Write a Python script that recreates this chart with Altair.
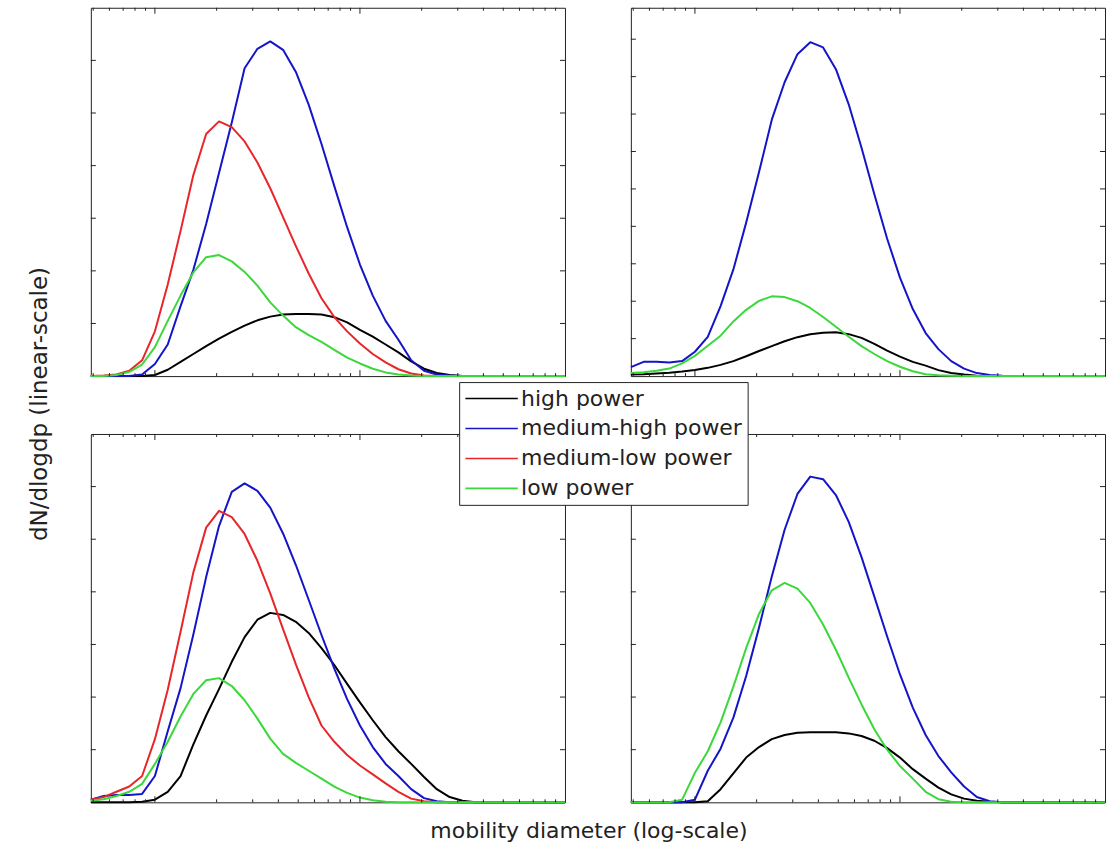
import altair as alt
import pandas as pd

# particle mobility diameter channels (16 per decade)
diameter = [4.870, 5.623, 6.494, 7.499, 8.660, 10.00, 11.55, 13.34, 15.40, 17.78,
            20.54, 23.71, 27.38, 31.62, 36.52, 42.17, 48.70, 56.23, 64.94, 74.99,
            86.60, 100.0, 115.5, 133.4, 154.0, 177.8, 205.4, 237.1, 273.8, 316.2,
            365.2, 421.7, 487.0, 562.3, 649.4, 749.9, 866.0, 1000.0]

series_names = ["high power", "medium-high power", "medium-low power", "low power"]
series_colors = ["#000000", "#1414c8", "#e8262a", "#3ad83a"]

# top-left panel
tl_high = [0, 0, 0, 0, 0, 0.02, 0.12, 0.27, 0.42, 0.57, 0.71, 0.84, 0.96, 1.06, 1.13, 1.17, 1.18, 1.18, 1.17, 1.12,
           1.02, 0.88, 0.75, 0.6, 0.45, 0.28, 0.14, 0.06, 0.02, 0, 0, 0, 0, 0, 0, 0, 0, 0]
tl_mhigh = [0, 0, 0, 0, 0.03, 0.23, 0.6, 1.33, 2.02, 2.89, 3.86, 4.82, 5.85, 6.22, 6.36, 6.2, 5.78, 5.16, 4.41, 3.61,
            2.83, 2.12, 1.53, 1.05, 0.69, 0.3, 0.1, 0.03, 0.01, 0, 0, 0, 0, 0, 0, 0, 0, 0]
tl_mlow = [0, 0.01, 0.03, 0.1, 0.3, 0.85, 1.74, 2.76, 3.82, 4.6, 4.84, 4.73, 4.46, 4.06, 3.57, 3.02, 2.47, 1.95, 1.48, 1.12,
           0.85, 0.62, 0.42, 0.26, 0.13, 0.05, 0.01, 0, 0, 0, 0, 0, 0, 0, 0, 0, 0, 0]
tl_low = [0, 0, 0.02, 0.08, 0.22, 0.55, 1.05, 1.53, 1.97, 2.26, 2.3, 2.18, 1.98, 1.72, 1.4, 1.15, 0.93, 0.78, 0.65, 0.5,
          0.35, 0.24, 0.14, 0.07, 0.03, 0.01, 0, 0, 0, 0, 0, 0, 0, 0, 0, 0, 0, 0]

# top-right panel
tr_high = [0.04, 0.05, 0.07, 0.09, 0.12, 0.16, 0.22, 0.3, 0.4, 0.53, 0.67, 0.8, 0.93, 1.04, 1.12, 1.16, 1.17, 1.12, 1.02, 0.86,
           0.68, 0.52, 0.38, 0.28, 0.16, 0.08, 0.04, 0.01, 0, 0, 0, 0, 0, 0, 0, 0, 0, 0]
tr_mhigh = [0.24, 0.38, 0.38, 0.36, 0.4, 0.65, 1.05, 1.87, 2.85, 4.1, 5.45, 6.85, 7.85, 8.6, 8.92, 8.78, 8.2, 7.26, 6.1, 4.86,
            3.67, 2.63, 1.79, 1.15, 0.72, 0.4, 0.2, 0.08, 0.03, 0.01, 0, 0, 0, 0, 0, 0, 0, 0]
tr_low = [0.08, 0.1, 0.14, 0.2, 0.34, 0.54, 0.81, 1.08, 1.46, 1.77, 2.01, 2.13, 2.11, 2.0, 1.82, 1.58, 1.32, 1.05, 0.8, 0.59,
          0.4, 0.25, 0.13, 0.05, 0.02, 0.01, 0, 0, 0, 0, 0, 0, 0, 0, 0, 0, 0, 0]

# bottom-left panel
bl_high = [0, 0, 0, 0, 0.01, 0.05, 0.2, 0.5, 1.1, 1.65, 2.15, 2.67, 3.14, 3.47, 3.6, 3.56, 3.43, 3.22, 2.93, 2.61,
           2.25, 1.9, 1.56, 1.24, 0.97, 0.73, 0.48, 0.25, 0.1, 0.03, 0, 0, 0, 0, 0, 0, 0, 0]
bl_mhigh = [0.05, 0.12, 0.14, 0.14, 0.16, 0.5, 1.35, 2.17, 3.19, 4.28, 5.25, 5.9, 6.06, 5.92, 5.6, 5.11, 4.51, 3.85, 3.18, 2.54,
            1.96, 1.46, 1.05, 0.73, 0.5, 0.25, 0.08, 0.02, 0, 0, 0, 0, 0, 0, 0, 0, 0, 0]
bl_mlow = [0.05, 0.1, 0.2, 0.3, 0.5, 1.2, 2.14, 3.24, 4.37, 5.22, 5.54, 5.42, 5.1, 4.59, 3.97, 3.29, 2.62, 2.0, 1.46, 1.15,
           0.9, 0.7, 0.53, 0.36, 0.2, 0.07, 0.02, 0, 0, 0, 0, 0, 0, 0, 0, 0, 0, 0]
bl_low = [0.03, 0.06, 0.12, 0.2, 0.35, 0.73, 1.15, 1.63, 2.06, 2.32, 2.36, 2.21, 1.94, 1.59, 1.21, 0.92, 0.75, 0.6, 0.45, 0.3,
          0.18, 0.09, 0.04, 0.01, 0, 0, 0, 0, 0, 0, 0, 0, 0, 0, 0, 0, 0, 0]

# bottom-right panel
br_high = [0, 0, 0, 0, 0, 0, 0.02, 0.25, 0.55, 0.85, 1.05, 1.2, 1.28, 1.32, 1.33, 1.33, 1.33, 1.31, 1.26, 1.17,
           1.03, 0.85, 0.63, 0.45, 0.28, 0.15, 0.07, 0.03, 0.01, 0, 0, 0, 0, 0, 0, 0, 0, 0]
br_mhigh = [0, 0, 0, 0, 0, 0.05, 0.6, 1.02, 1.61, 2.4, 3.32, 4.29, 5.18, 5.86, 6.19, 6.14, 5.84, 5.33, 4.66, 3.91,
            3.15, 2.43, 1.8, 1.28, 0.88, 0.57, 0.3, 0.1, 0.02, 0, 0, 0, 0, 0, 0, 0, 0, 0]
br_low = [0, 0, 0, 0, 0.05, 0.56, 0.97, 1.52, 2.2, 2.93, 3.58, 4.03, 4.17, 4.06, 3.79, 3.38, 2.9, 2.37, 1.86, 1.39,
          1.0, 0.69, 0.45, 0.2, 0.06, 0.01, 0, 0, 0, 0, 0, 0, 0, 0, 0, 0, 0, 0]

y_ticks_small = [1, 2, 3, 4, 5, 6]
y_ticks_tall = [1, 2, 3, 4, 5, 6, 7, 8, 9]
x_major = [10, 100]
x_minor = [5, 6, 7, 8, 9, 20, 30, 40, 50, 60, 70, 80, 90, 200, 300, 400, 500, 600, 700, 800, 900]

y_title = "dN/dlogdp (linear-scale)"
x_title = "mobility diameter (log-scale)"

W, H = 475, 369
FONT = "DejaVu Sans"
INK = "#222222"

legend = alt.Legend(
    title=None, orient="none", legendX=369, legendY=375,
    symbolType="M-2.5,0H2.5", symbolSize=441, symbolStrokeWidth=1.6,
    symbolOffset=16, labelOffset=18,
    labelFont=FONT, labelFontSize=22, labelColor=INK, labelLimit=400,
    rowPadding=7, padding=5, fillColor="white", strokeColor=INK,
)
color_scale = alt.Scale(domain=series_names, range=series_colors)


def panel(series_values, ymax, yticks, extra=None):
    xs = alt.Scale(type="log", domain=[4.87, 1000], nice=False)
    ys = alt.Scale(domain=[0, ymax], nice=False)
    layers = []
    for name, vals in zip(series_names, series_values):
        if vals is None:
            continue
        df = pd.DataFrame({"d": diameter, "v": vals, "series": name})
        layers.append(
            alt.Chart(df).mark_line(strokeWidth=2, strokeJoin="round").encode(
                x=alt.X("d:Q", scale=xs, axis=None),
                y=alt.Y("v:Q", scale=ys, axis=None),
                color=alt.Color("series:N", scale=color_scale, legend=legend),
            )
        )
    ydf = pd.DataFrame({"yt": yticks})
    layers.append(alt.Chart(ydf).mark_rule(color=INK, strokeWidth=1).encode(
        y=alt.Y("yt:Q", scale=ys, axis=None), x=alt.value(0), x2=alt.value(5)))
    layers.append(alt.Chart(ydf).mark_rule(color=INK, strokeWidth=1).encode(
        y=alt.Y("yt:Q", scale=ys, axis=None), x=alt.value(W - 5), x2=alt.value(W)))
    for vals, ln in ((x_major, 6), (x_minor, 3)):
        xdf = pd.DataFrame({"xt": vals})
        layers.append(alt.Chart(xdf).mark_rule(color=INK, strokeWidth=1).encode(
            x=alt.X("xt:Q", scale=xs, axis=None), y=alt.value(H), y2=alt.value(H - ln)))
        layers.append(alt.Chart(xdf).mark_rule(color=INK, strokeWidth=1).encode(
            x=alt.X("xt:Q", scale=xs, axis=None), y=alt.value(0), y2=alt.value(ln)))
    if extra is not None:
        layers.append(extra)
    return alt.layer(*layers).properties(width=W, height=H)


ytitle_layer = alt.Chart(pd.DataFrame({"t": [y_title]})).mark_text(
    angle=270, font=FONT, fontSize=23, color=INK, align="center", baseline="middle"
).encode(text="t:N", x=alt.value(-51), y=alt.value(397))

xtitle_layer = alt.Chart(pd.DataFrame({"t": [x_title]})).mark_text(
    font=FONT, fontSize=22, color=INK, align="center", baseline="middle"
).encode(text="t:N", x=alt.value(499), y=alt.value(398))

tl = panel([tl_high, tl_mhigh, tl_mlow, tl_low], 7, y_ticks_small, ytitle_layer)
tr = panel([tr_high, tr_mhigh, None, tr_low], 9.84, y_ticks_tall)
bl = panel([bl_high, bl_mhigh, bl_mlow, bl_low], 7, y_ticks_small, xtitle_layer)
br = panel([br_high, br_mhigh, None, br_low], 7, y_ticks_small)

chart = alt.concat(
    tl, tr, bl, br, columns=2, spacing={"row": 58, "column": 66}, bounds="flush"
).properties(
    padding={"left": 28, "top": 6, "right": 0, "bottom": 4},
    background="white",
).configure_view(stroke=INK, strokeWidth=1)

chart.save("out.html", embed_options={"renderer": "svg", "actions": False})
